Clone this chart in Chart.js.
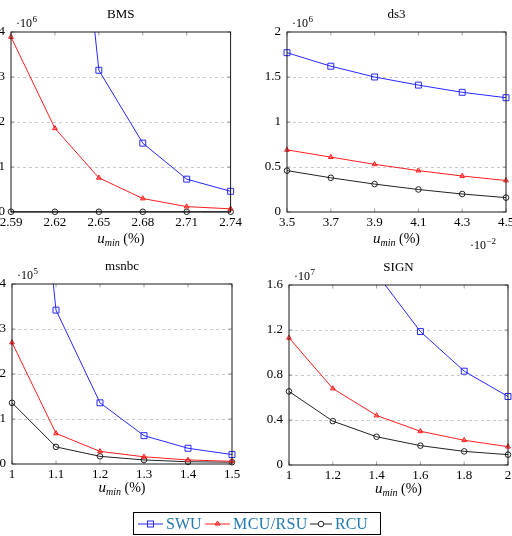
<!DOCTYPE html>
<html lang="en">
<head>
<meta charset="UTF-8">
<title>Candidates vs u_min</title>
<script src="https://cdn.jsdelivr.net/npm/chart.js"></script>
<style>
    body {
        margin: 0;
        width: 512px;
        height: 536px;
        overflow: hidden;
        background: #fff;
        position: relative;
        font-family: "Liberation Serif", serif;
    }
    .panel {
        position: absolute;
    }
    .legend {
        position: absolute;
        left: 133px;
        top: 512px;
        width: 248px;
        height: 23px;
        border: 1px solid #000;
        box-sizing: border-box;
        display: flex;
        align-items: center;
        padding-left: 4px;
        font-size: 16px;
        color: #1f78b4;
        white-space: nowrap;
    }
    .legend svg {
        margin-right: 3px;
        flex: none;
    }
    .legend span {
        display: inline-block;
    }
</style>
</head>
<body>

<div class="panel" id="p1"><canvas id="bmsChart"></canvas></div>
<div class="panel" id="p2"><canvas id="ds3Chart"></canvas></div>
<div class="panel" id="p3"><canvas id="msnbcChart"></canvas></div>
<div class="panel" id="p4"><canvas id="signChart"></canvas></div>

<div class="legend">
    <svg width="25" height="10"><line x1="0" y1="5" x2="25" y2="5" stroke="rgb(40,40,255)" stroke-width="1"/><rect x="9.5" y="2" width="6" height="6" fill="none" stroke="rgb(40,40,255)" stroke-width="1"/></svg>
    <span style="width:39px">SWU</span>
    <svg width="25" height="10"><line x1="0" y1="5" x2="25" y2="5" stroke="rgb(255,30,30)" stroke-width="1"/><polygon points="12.5,2 15,6 10,6" fill="rgba(255,30,30,0.4)" stroke="rgb(255,30,30)" stroke-width="1"/></svg>
    <span style="width:77px;letter-spacing:0.4px">MCU/RSU</span>
    <svg width="22" height="10"><line x1="0" y1="5" x2="22" y2="5" stroke="#222" stroke-width="1"/><circle cx="11" cy="5" r="2.8" fill="#fff" stroke="#222" stroke-width="1"/></svg>
    <span>RCU</span>
</div>

<script>
    // series names
    const seriesNames = ['SWU', 'MCU/RSU', 'RCU'];

    // BMS (values in 10^6)
    const bmsX = ['2.59', '2.62', '2.65', '2.68', '2.71', '2.74'];
    const bmsSWU = [40, 12.4, 3.15, 1.53, 0.73, 0.46];
    const bmsMCU = [3.89, 1.86, 0.76, 0.30, 0.12, 0.07];
    const bmsRCU = [0.005, 0.005, 0.005, 0.005, 0.005, 0.005];
    const bmsYTicks = [0, 1, 2, 3, 4];

    // ds3 (values in 10^6, x in 10^-2)
    const ds3X = ['3.5', '3.7', '3.9', '4.1', '4.3', '4.5'];
    const ds3SWU = [1.77, 1.62, 1.50, 1.41, 1.33, 1.27];
    const ds3MCU = [0.69, 0.61, 0.53, 0.46, 0.40, 0.35];
    const ds3RCU = [0.46, 0.38, 0.31, 0.25, 0.20, 0.16];
    const ds3YTicks = [0, 0.5, 1, 1.5, 2];

    // msnbc (values in 10^5)
    const msnbcX = ['1', '1.1', '1.2', '1.3', '1.4', '1.5'];
    const msnbcSWU = [12.9, 3.42, 1.36, 0.63, 0.35, 0.21];
    const msnbcMCU = [2.70, 0.68, 0.28, 0.16, 0.09, 0.06];
    const msnbcRCU = [1.36, 0.38, 0.17, 0.09, 0.05, 0.04];
    const msnbcYTicks = [0, 1, 2, 3, 4];

    // SIGN (values in 10^7)
    const signX = ['1', '1.2', '1.4', '1.6', '1.8', '2'];
    const signSWU = [4.2, 2.6, 1.70, 1.186, 0.834, 0.609];
    const signMCU = [1.13, 0.68, 0.44, 0.30, 0.22, 0.163];
    const signRCU = [0.654, 0.39, 0.251, 0.172, 0.121, 0.092];
    const signYTicks = [0, 0.4, 0.8, 1.2, 1.6];

    const BLUE = 'rgb(40,40,255)';
    const RED = 'rgb(255,30,30)';
    const BLACK = '#222';
    const FONT = '"Liberation Serif", serif';

    // room around the plot area inside each canvas
    const PAD_L = 40, PAD_T = 30, PAD_R = 14, X_H = 20, PAD_B = 26;

    function drawPower(ctx, x, y, base, exp, size) {
        ctx.font = size + 'px ' + FONT;
        ctx.textBaseline = 'middle';
        ctx.textAlign = 'left';
        ctx.fillText(base, x, y);
        const w = ctx.measureText(base).width;
        ctx.font = Math.round(size * 0.72) + 'px ' + FONT;
        ctx.fillText(exp, x + w + 0.5, y - size * 0.38);
    }

    const decorPlugin = {
        id: 'decor',
        afterDraw(chart, args, opts) {
            const ctx = chart.ctx;
            const a = chart.chartArea;
            const xs = chart.scales.x, ys = chart.scales.y;
            ctx.save();

            // inner tick marks
            ctx.strokeStyle = '#888';
            ctx.lineWidth = 0.8;
            ctx.beginPath();
            xs.ticks.forEach((t, i) => {
                const px = xs.getPixelForTick(i);
                ctx.moveTo(px, a.bottom); ctx.lineTo(px, a.bottom - 3.5);
                ctx.moveTo(px, a.top); ctx.lineTo(px, a.top + 3.5);
            });
            ys.ticks.forEach(t => {
                const py = ys.getPixelForValue(t.value);
                ctx.moveTo(a.left, py); ctx.lineTo(a.left + 3.5, py);
                ctx.moveTo(a.right, py); ctx.lineTo(a.right - 3.5, py);
            });
            ctx.stroke();

            // frame
            ctx.strokeStyle = '#000';
            ctx.lineWidth = 0.9;
            ctx.strokeRect(a.left, a.top, a.right - a.left, a.bottom - a.top);

            ctx.fillStyle = '#000';
            // title
            ctx.font = '13px ' + FONT;
            ctx.textAlign = 'center';
            ctx.textBaseline = 'middle';
            ctx.fillText(opts.title, (a.left + a.right) / 2, a.top - 17);

            // y multiplier
            drawPower(ctx, a.left + 5, a.top - 8, '·10', opts.yExp, 12);

            // x multiplier
            if (opts.xExp) {
                drawPower(ctx, a.right - 36, a.bottom + 34, '·10', opts.xExp, 12);
            }

            // axis label: u_min (%)
            const cx = (a.left + a.right) / 2;
            const cy = a.bottom + opts.labelOff;
            ctx.textBaseline = 'alphabetic';
            ctx.textAlign = 'left';
            ctx.font = 'italic 15px ' + FONT;
            const w1 = ctx.measureText('u').width;
            ctx.font = 'italic 10px ' + FONT;
            const w2 = ctx.measureText('min').width;
            ctx.font = '14px ' + FONT;
            const w3 = ctx.measureText(' (%)').width;
            let x0 = cx - (w1 + w2 + w3) / 2;
            ctx.font = 'italic 15px ' + FONT;
            ctx.fillText('u', x0, cy + 4);
            ctx.font = 'italic 10px ' + FONT;
            ctx.fillText('min', x0 + w1, cy + 7);
            ctx.font = '14px ' + FONT;
            ctx.fillText(' (%)', x0 + w1 + w2, cy + 4);

            ctx.restore();
        }
    };

    function makeDataset(label, data, color, style, radius, fill) {
        return {
            label: label,
            data: data,
            borderColor: color,
            backgroundColor: fill,
            borderWidth: 1,
            pointStyle: style,
            pointRadius: radius,
            pointBorderWidth: 1,
            pointBorderColor: color,
            pointBackgroundColor: fill,
            tension: 0,
            clip: { left: 8, right: 8, top: 0, bottom: 8 }
        };
    }

    function makePanel(boxId, canvasId, plot, labels, swu, mcu, rcu, yTicks, decor) {
        const box = document.getElementById(boxId);
        box.style.left = (plot.left - PAD_L) + 'px';
        box.style.top = (plot.top - PAD_T) + 'px';
        box.style.width = (plot.width + PAD_L + PAD_R) + 'px';
        box.style.height = (plot.height + PAD_T + X_H + PAD_B) + 'px';

        const yMax = yTicks[yTicks.length - 1];
        const ctx = document.getElementById(canvasId).getContext('2d');
        return new Chart(ctx, {
            type: 'line',
            data: {
                labels: labels,
                datasets: [
                    makeDataset(seriesNames[0], swu, BLUE, 'rect', 4.2, 'rgba(255,255,255,0)'),
                    makeDataset(seriesNames[1], mcu, RED, 'triangle', 2.8, 'rgba(255,30,30,0.35)'),
                    makeDataset(seriesNames[2], rcu, BLACK, 'circle', 2.8, 'rgba(255,255,255,0)')
                ]
            },
            options: {
                responsive: true,
                maintainAspectRatio: false,
                animation: false,
                layout: {
                    padding: { left: 0, top: PAD_T, right: PAD_R, bottom: PAD_B }
                },
                plugins: {
                    legend: { display: false },
                    tooltip: { enabled: false },
                    decor: decor
                },
                scales: {
                    x: {
                        type: 'category',
                        offset: false,
                        grid: { display: false, drawTicks: false },
                        border: { display: false },
                        ticks: {
                            autoSkip: false,
                            maxRotation: 0,
                            padding: 3,
                            color: '#000',
                            font: { family: FONT, size: 13 }
                        },
                        afterFit: scale => { scale.height = X_H; }
                    },
                    y: {
                        min: 0,
                        max: yMax,
                        grid: {
                            drawTicks: false,
                            lineWidth: 0.8,
                            color: c => (c.tick && (c.tick.value === 0 || c.tick.value === yMax)) ? 'rgba(0,0,0,0)' : '#bdbdbd'
                        },
                        border: { display: false, dash: [3, 3] },
                        ticks: {
                            padding: 6,
                            color: '#000',
                            font: { family: FONT, size: 13 },
                            callback: v => String(v)
                        },
                        afterBuildTicks: scale => {
                            scale.ticks = yTicks.map(v => ({ value: v }));
                        },
                        afterFit: scale => { scale.width = PAD_L; }
                    }
                }
            },
            plugins: [decorPlugin]
        });
    }

    window.onload = function () {
        makePanel('p1', 'bmsChart', { left: 11, top: 32, width: 220, height: 180 },
            bmsX, bmsSWU, bmsMCU, bmsRCU, bmsYTicks,
            { title: 'BMS', yExp: '6', labelOff: 27 });
        makePanel('p2', 'ds3Chart', { left: 287, top: 32, width: 219, height: 180 },
            ds3X, ds3SWU, ds3MCU, ds3RCU, ds3YTicks,
            { title: 'ds3', yExp: '6', xExp: '−2', labelOff: 27 });
        makePanel('p3', 'msnbcChart', { left: 12, top: 284, width: 220, height: 180 },
            msnbcX, msnbcSWU, msnbcMCU, msnbcRCU, msnbcYTicks,
            { title: 'msnbc', yExp: '5', labelOff: 24 });
        makePanel('p4', 'signChart', { left: 289, top: 285, width: 219, height: 180 },
            signX, signSWU, signMCU, signRCU, signYTicks,
            { title: 'SIGN', yExp: '7', labelOff: 24 });
    };
</script>
</body>
</html>
